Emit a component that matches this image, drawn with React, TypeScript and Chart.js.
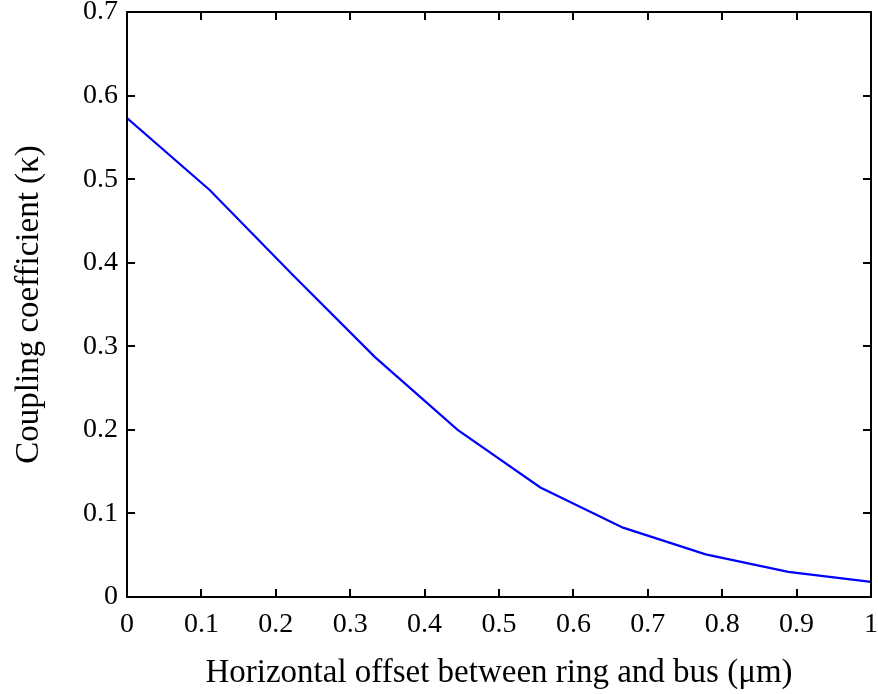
import React, { useEffect, useRef } from "react";
import { Chart, registerables } from "chart.js";

Chart.register(...registerables);

const offsets = [0, 0.1111, 0.2222, 0.3333, 0.4444, 0.5556, 0.6667, 0.7778, 0.8889, 1.0];
const kappa = [0.573, 0.487, 0.386, 0.287, 0.200, 0.131, 0.083, 0.051, 0.030, 0.018];
const xTicks = [0, 0.1, 0.2, 0.3, 0.4, 0.5, 0.6, 0.7, 0.8, 0.9, 1];
const yTicks = [0, 0.1, 0.2, 0.3, 0.4, 0.5, 0.6, 0.7];
const xTitle = "Horizontal offset between ring and bus (\u03bcm)";
const yTitle = "Coupling coefficient (\u03ba)";

const FONT = "'Liberation Serif', 'Times New Roman', serif";

const framePlugin = {
  id: "frame",
  afterDraw(chart: any) {
    const { ctx, chartArea } = chart;
    const { left, right, top, bottom } = chartArea;
    const xs = chart.scales.x;
    const ys = chart.scales.y;
    ctx.save();
    ctx.strokeStyle = "#000";
    ctx.lineWidth = 2;
    ctx.strokeRect(left, top, right - left, bottom - top);
    const len = 8;
    ctx.beginPath();
    xTicks.forEach((v) => {
      const px = Math.round(xs.getPixelForValue(v));
      ctx.moveTo(px, bottom);
      ctx.lineTo(px, bottom - len);
      ctx.moveTo(px, top);
      ctx.lineTo(px, top + len);
    });
    yTicks.forEach((v) => {
      const py = Math.round(ys.getPixelForValue(v));
      ctx.moveTo(left, py);
      ctx.lineTo(left + len, py);
      ctx.moveTo(right, py);
      ctx.lineTo(right - len, py);
    });
    ctx.stroke();
    ctx.restore();
  },
};

export default function App() {
  const ref = useRef<HTMLCanvasElement | null>(null);
  useEffect(() => {
    document.body.style.margin = "0";
    const canvas = ref.current!;
    const chart = new Chart(canvas, {
      type: "line",
      data: {
        datasets: [
          {
            data: offsets.map((x, i) => ({ x, y: kappa[i] })),
            borderColor: "#0000ff",
            borderWidth: 2.2,
            pointRadius: 0,
            fill: false,
            tension: 0,
          },
        ],
      },
      options: {
        animation: false,
        responsive: false,
        maintainAspectRatio: false,
        layout: { padding: { top: 12, right: 7, left: 0, bottom: 0 } },
        plugins: { legend: { display: false }, tooltip: { enabled: false } },
        scales: {
          x: {
            type: "linear",
            min: 0,
            max: 1,
            afterFit: (s: any) => {
              s.height = 97;
              s.paddingLeft = 0;
              s.paddingRight = 0;
            },
            afterBuildTicks: (s: any) => {
              s.ticks = xTicks.map((v) => ({ value: v }));
            },
            grid: { display: false },
            border: { display: false },
            ticks: {
              color: "#000",
              font: { family: FONT, size: 28 },
              padding: 3,
              maxRotation: 0,
              autoSkip: false,
              callback: (v: any) => String(v),
            },
            title: {
              display: true,
              text: xTitle,
              color: "#000",
              font: { family: FONT, size: 33 },
              padding: { top: 0, bottom: 1 },
            },
          },
          y: {
            type: "linear",
            min: 0,
            max: 0.7,
            afterFit: (s: any) => {
              s.width = 127;
              s.paddingTop = 0;
              s.paddingBottom = 0;
            },
            afterBuildTicks: (s: any) => {
              s.ticks = yTicks.map((v) => ({ value: v }));
            },
            grid: { display: false },
            border: { display: false },
            ticks: {
              color: "#000",
              font: { family: FONT, size: 28 },
              padding: 1,
              autoSkip: false,
              callback: (v: any) => String(Math.round(v * 10) / 10),
            },
            title: {
              display: true,
              text: yTitle,
              color: "#000",
              font: { family: FONT, size: 33 },
              padding: { top: 10, bottom: 10 },
            },
          },
        },
      },
      plugins: [framePlugin],
    });
    return () => chart.destroy();
  }, []);
  return (
    <div style={{ width: 878, height: 694, background: "#fff" }}>
      <canvas ref={ref} width={878} height={694} style={{ display: "block" }} />
    </div>
  );
}
